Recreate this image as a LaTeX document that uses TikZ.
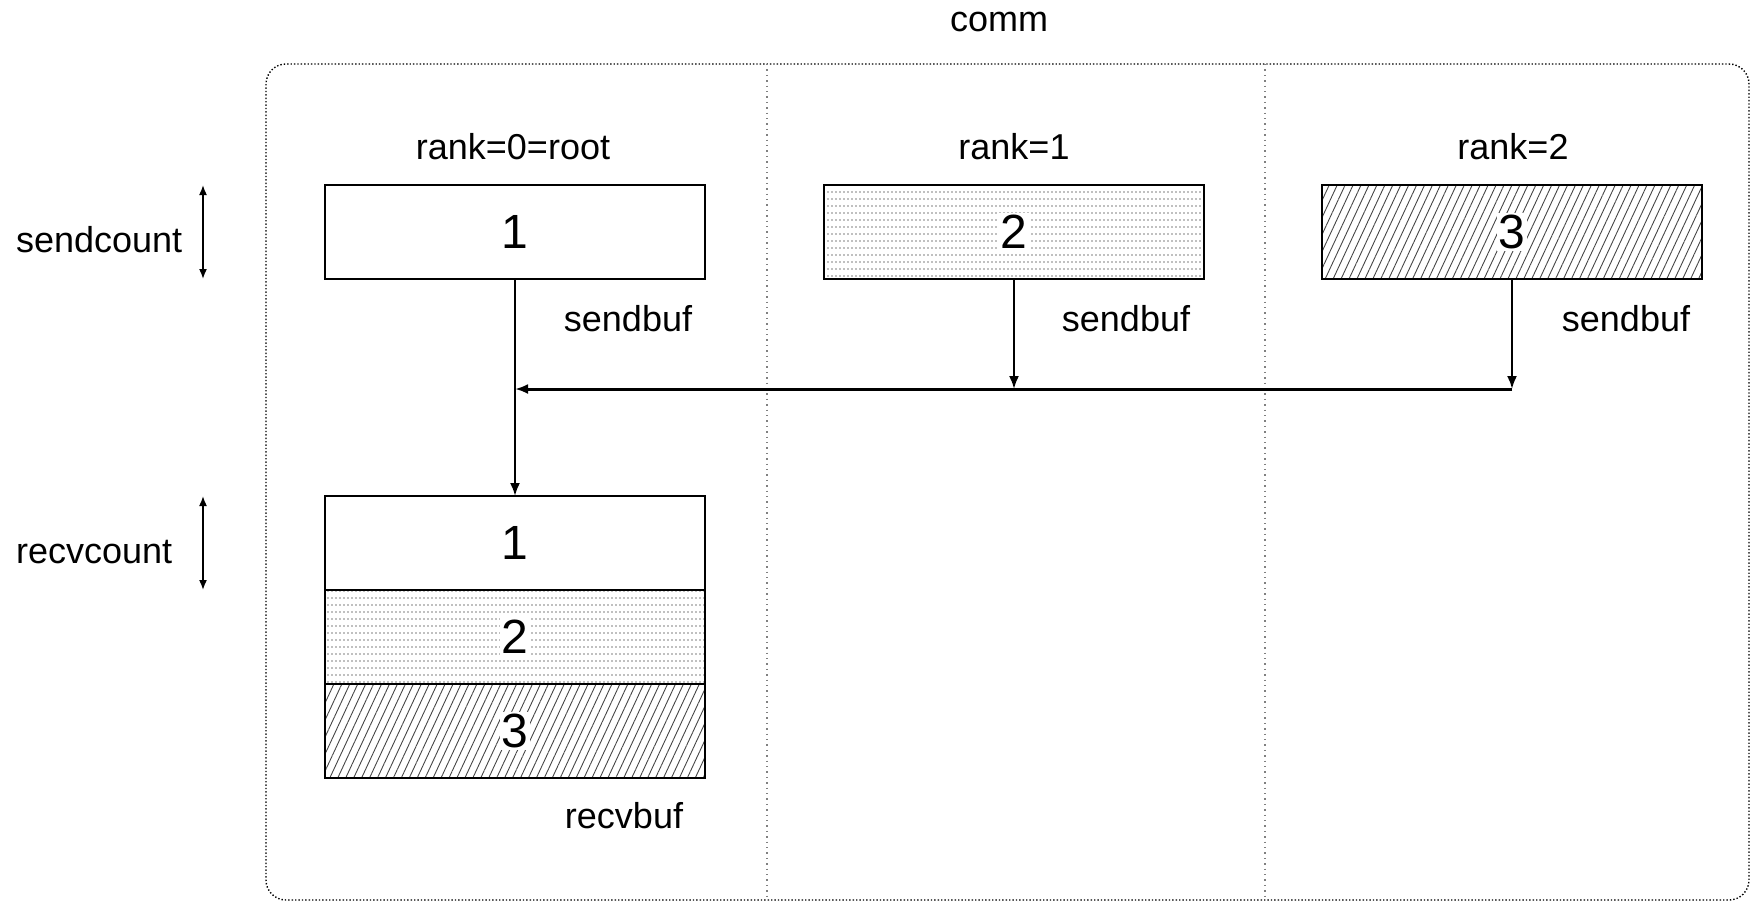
\documentclass[tikz,border=0pt]{standalone}
\usepackage{fontspec}
\setmainfont{Liberation Sans}
\usetikzlibrary{arrows.meta,patterns.meta,positioning}

\tikzdeclarepattern{
  name=rowdots,
  type=uncolored,
  bottom left={(-.5pt,-.5pt)},
  top right={(1.5pt,3pt)},
  tile size={(2pt,3.5pt)},
  code={\fill (0,0) circle (0.45pt);}
}

\begin{document}
\begin{tikzpicture}[x=0.5pt,y=-0.5pt,
  lbl/.style={font=\fontsize{18}{22}\selectfont},
  num/.style={fill=white,inner sep=1pt,font=\fontsize{24}{28}\selectfont},
  buf/.style={draw,line width=1.3pt,outer sep=0pt,inner sep=0pt,
    minimum width=190pt,minimum height=47pt,font=\fontsize{24}{28}\selectfont},
  dotbuf/.style={buf,pattern=rowdots,pattern color=gray},
  hatchbuf/.style={buf,pattern={Lines[angle=65,distance=3.6pt,line width=0.45pt]},
    pattern color=gray!55!black},
  flow/.style={line width=1.1pt,-{Latex[length=6.5pt,width=5pt]}},
  count/.style={line width=0.8pt,{Latex[length=5pt,width=4pt]}-{Latex[length=5pt,width=4pt]}}
]
\useasboundingbox (0,0) rectangle (1751,906);

% communicator and the three processes
\draw[densely dotted,line width=0.7pt,rounded corners=10pt] (266,64) rectangle (1749,900);
\foreach \x in {767,1265}
  \draw[dotted,gray,line width=0.7pt] (\x,64) -- (\x,900);
\node[lbl] (comm) at (999,22) {comm};
\foreach \x/\t/\n in {513/rank=0=root/r0,1014/rank=1/r1,1513/rank=2/r2}
  \node[lbl] (\n) at (\x,147) {\t};

% send buffers
\node[buf] (send0) at (515,232) {1};
\node[dotbuf,label={[num]center:2}] (send1) at (1014,232) {};
\node[hatchbuf,label={[num]center:3}] (send2) at (1512,232) {};
\foreach \x/\n in {628/sb0,1126/sb1,1626/sb2}
  \node[lbl] (\n) at (\x,319) {sendbuf};

% receive buffer on root
\node[buf] (recv0) at (515,543) {1};
\node[dotbuf,below=0pt of recv0,label={[num]center:2}] (recv1) {};
\node[hatchbuf,below=0pt of recv1,label={[num]center:3}] (recv2) {};
\node[lbl] (rb) at (624,816) {recvbuf};

% gather
\coordinate (bus) at (0,389);
\coordinate (j0) at (send0.south |- bus);
\coordinate (j1) at (send1.south |- bus);
\coordinate (j2) at (send2.south |- bus);
\draw[flow] (send1.south) -- (j1);
\draw[flow] (send2.south) -- (j2);
\draw[flow,line width=1.5pt] (j2) -- (j0);
\draw[flow] (send0.south) -- (recv0.north);

% counts
\coordinate (cx) at (203,0);
\draw[count] (send0.north -| cx) -- (send0.south -| cx);
\draw[count] (recv0.north -| cx) -- (recv0.south -| cx);
\node[lbl,anchor=west] (sc) at (9,240) {sendcount};
\node[lbl,anchor=west] (rc) at (9,552) {recvcount};
\end{tikzpicture}
\end{document}
